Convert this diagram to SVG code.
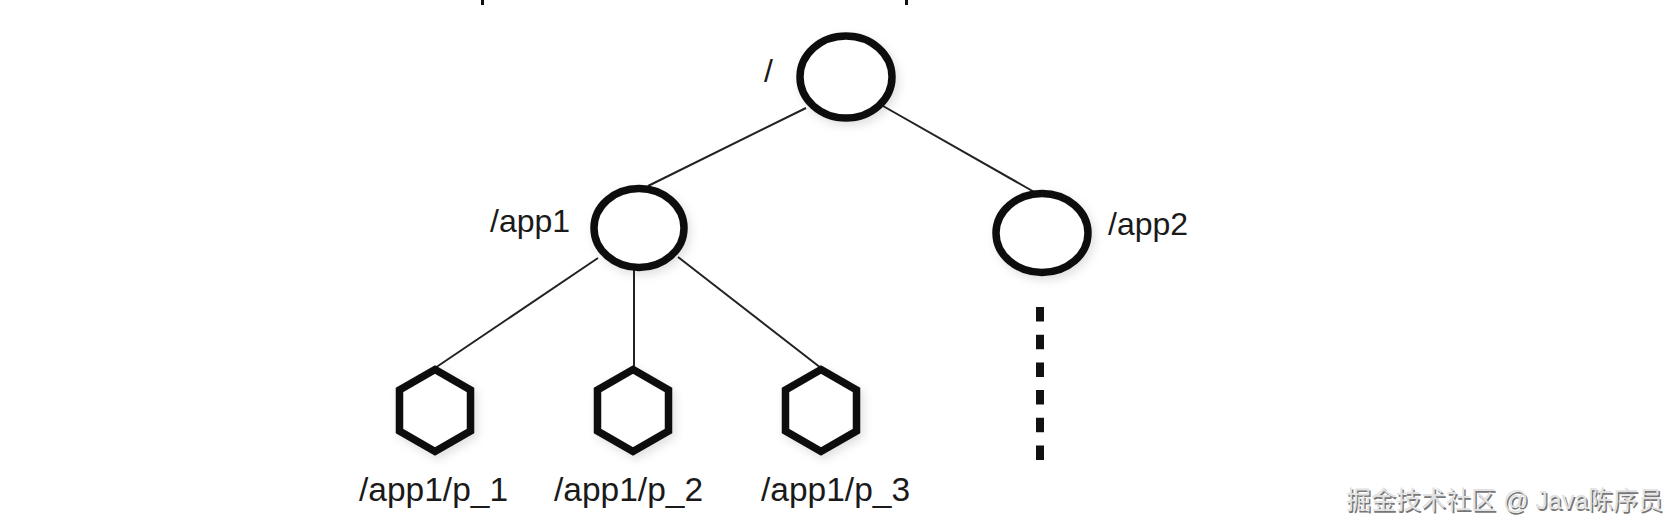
<svg xmlns="http://www.w3.org/2000/svg" width="1680" height="532" viewBox="0 0 1680 532">
<defs>
<filter id="sh" x="-30%" y="-30%" width="160%" height="160%">
<feDropShadow dx="3" dy="4" stdDeviation="5" flood-color="#000" flood-opacity="0.12"/>
</filter>
</defs>
<style>
.node{fill:#fff;stroke:#111;stroke-width:7.5;stroke-linejoin:miter}
.edge{stroke:#222;stroke-width:2;fill:none}
.lbl{font-family:"Liberation Sans",Arial,sans-serif;font-size:32px;fill:#1a1a1a}
.sub{font-size:33.5px}
.wm{font-family:"Liberation Sans","Noto Sans CJK SC",sans-serif;font-size:25px}
</style>
<rect width="1680" height="532" fill="#fff"/>
<rect x="481" y="0" width="3" height="5" fill="#111"/>
<rect x="905" y="0" width="3" height="5" fill="#111"/>
<g id="connectors">
<line class="edge" x1="806" y1="108" x2="648" y2="186"/>
<line class="edge" x1="883" y1="106" x2="1036" y2="193"/>
<line class="edge" x1="598" y1="258" x2="435" y2="368"/>
<line class="edge" x1="634" y1="270" x2="634" y2="368"/>
<line class="edge" x1="678" y1="257" x2="821" y2="368"/>
<line x1="1040" y1="307" x2="1040" y2="460" stroke="#111" stroke-width="8" stroke-dasharray="14.5 13.2"/>
</g>
<g id="root">
<ellipse class="node" filter="url(#sh)" cx="846" cy="77" rx="46" ry="41"/>
<text class="lbl" x="764" y="82">/</text>
</g>
<g id="app1">
<ellipse class="node" filter="url(#sh)" cx="639" cy="228" rx="45" ry="39.5"/>
<text class="lbl" x="490" y="232">/app1</text>
</g>
<g id="app2">
<ellipse class="node" filter="url(#sh)" cx="1042" cy="233" rx="46" ry="39.5"/>
<text class="lbl" x="1108" y="235">/app2</text>
</g>
<g id="p1">
<polygon class="node" filter="url(#sh)" points="435,369.5 470.5,390 470.5,431 435,451.5 399.5,431 399.5,390"/>
<text class="lbl sub" x="359" y="501">/app1/p_1</text>
</g>
<g id="p2">
<polygon class="node" filter="url(#sh)" points="633,369.5 668.5,390 668.5,431 633,451.5 597.5,431 597.5,390"/>
<text class="lbl sub" x="554" y="501">/app1/p_2</text>
</g>
<g id="p3">
<polygon class="node" filter="url(#sh)" points="821,369.5 856.5,390 856.5,431 821,451.5 785.5,431 785.5,390"/>
<text class="lbl sub" x="761" y="501">/app1/p_3</text>
</g>
<g id="watermark">
<text class="wm" x="1347.5" y="510.5" fill="#777">掘金技术社区 @ Java陈序员</text>
<text class="wm" x="1346" y="509" fill="#e2e2e2">掘金技术社区 @ Java陈序员</text>
</g>
</svg>
